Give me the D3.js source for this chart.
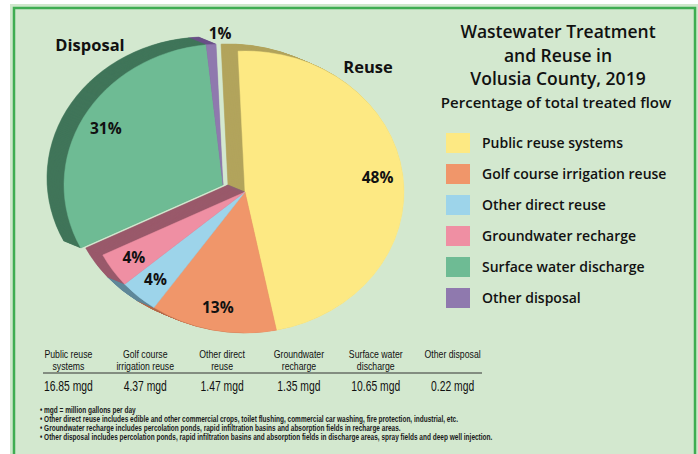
<!DOCTYPE html>
<html>
<head>
<meta charset="utf-8">
<script src="https://cdn.jsdelivr.net/npm/d3@7"></script>
<style>
  body { margin: 0; background: #fff; }
  svg { display: block; }
</style>
</head>
<body>
<div id="chart"></div>
<script>
var categories = ['Public reuse systems', 'Golf course irrigation reuse', 'Other direct reuse',
  'Groundwater recharge', 'Surface water discharge', 'Other disposal'];
var groups = ['Reuse', 'Reuse', 'Reuse', 'Reuse', 'Disposal', 'Disposal'];
var percents = [48, 13, 4, 4, 31, 1];
var flows = [16.85, 4.37, 1.47, 1.35, 10.65, 0.22];
var tableHeads = [['Public reuse', 'systems'], ['Golf course', 'irrigation reuse'], ['Other direct', 'reuse'],
  ['Groundwater', 'recharge'], ['Surface water', 'discharge'], ['Other disposal']];
var groupNames = ['Disposal', 'Reuse'];
var titleLines = ['Wastewater Treatment', 'and Reuse in', 'Volusia County, 2019'];
var subtitle = 'Percentage of total treated flow';
var footnotes = [
  '\u2022 mgd = million gallons per day',
  '\u2022 Other direct reuse includes edible and other commercial crops, toilet flushing, commercial car washing, fire protection, industrial, etc.',
  '\u2022 Groundwater recharge includes percolation ponds, rapid infiltration basins and absorption fields in recharge areas.',
  '\u2022 Other disposal includes percolation ponds, rapid infiltration basins and absorption fields in discharge areas, spray fields and deep well injection.'
];

var faceColors = ['#fde983', '#f0966a', '#9dd4ea', '#ef8fa3', '#6ebb94', '#8f79ae'];
var wallColors = ['#b2a45c', '#b46a4a', '#5f8799', '#9a5a6b', '#40755a', '#6a5088'];

var W = 698, H = 454;
var bg = '#d3e8cf';
var narrow = 0.74;

var svg = d3.select('#chart').append('svg')
  .attr('width', W).attr('height', H);

// frame
svg.append('rect').attr('x', 10).attr('y', 4).attr('width', W - 10).attr('height', H)
  .attr('fill', '#cfe8cc');
svg.append('rect').attr('x', 14).attr('y', 8).attr('width', 681).attr('height', H)
  .attr('fill', bg).attr('stroke', '#3fad52').attr('stroke-width', 2.5);

// pie
var cx = 245, cy = 192, rx = 159, ry = 141;
var explode = { Reuse: [0, 0], Disposal: [-22, -7] };
var depth = [-17, -7];
var startA = -2.5 * Math.PI / 180;

var pie = d3.pie().sort(null).value(function(d) { return d; })
  .startAngle(startA).endAngle(startA + 2 * Math.PI);
var slices = pie(percents);
slices.forEach(function(d, i) { d.i = i; d.group = groups[i]; });

var arc = d3.arc().innerRadius(0).outerRadius(rx);
var labelArc = d3.arc().innerRadius(rx * 0.84).outerRadius(rx * 0.84);
var outerLabelArc = d3.arc().innerRadius(rx * 1.08).outerRadius(rx * 1.08);

var pieG = svg.append('g');
var steps = 24;
// side walls: stack darker copies shifted back
for (var s = steps; s >= 1; s--) {
  var t = s / steps;
  slices.forEach(function(d) {
    var e = explode[d.group];
    pieG.append('path')
      .attr('d', arc(d))
      .attr('fill', wallColors[d.i])
      .attr('stroke', wallColors[d.i])
      .attr('stroke-width', 0.6)
      .attr('transform', 'translate(' + (cx + e[0] + depth[0] * t) + ',' + (cy + e[1] + depth[1] * t) +
        ') scale(1,' + ry / rx + ')');
  });
}
pieG.selectAll('path.face')
  .data(slices)
  .enter()
  .append('path')
  .attr('class', 'face')
  .attr('d', arc)
  .attr('fill', function(d) { return faceColors[d.i]; })
  .attr('stroke', function(d) { return faceColors[d.i]; })
  .attr('stroke-width', 0.5)
  .attr('transform', function(d) {
    var e = explode[d.group];
    return 'translate(' + (cx + e[0]) + ',' + (cy + e[1]) + ') scale(1,' + ry / rx + ')';
  });

pieG.selectAll('text.pct')
  .data(slices)
  .enter()
  .append('text')
  .attr('class', 'pct')
  .attr('text-anchor', 'middle')
  .attr('dy', '0.35em')
  .style('font-family', '"Open Sans", sans-serif')
  .style('font-weight', '700')
  .style('font-size', '15.5px')
  .attr('fill', '#111')
  .attr('x', function(d) {
    var e = explode[d.group];
    var c = d.value < 2 ? outerLabelArc.centroid(d) : labelArc.centroid(d);
    return cx + e[0] + c[0] + (d.value < 2 ? 10 : 0);
  })
  .attr('y', function(d) {
    var e = explode[d.group];
    var c = d.value < 2 ? outerLabelArc.centroid(d) : labelArc.centroid(d);
    return cy + e[1] + c[1] * ry / rx;
  })
  .text(function(d) { return d.value + '%'; });

// group names
svg.selectAll('text.grp')
  .data(groupNames)
  .enter()
  .append('text')
  .attr('class', 'grp')
  .attr('x', function(d, i) { return i === 0 ? 90 : 368; })
  .attr('y', function(d, i) { return i === 0 ? 51 : 73; })
  .attr('text-anchor', 'middle')
  .style('font-family', '"Open Sans", sans-serif')
  .style('font-weight', '700')
  .style('font-size', '16.5px')
  .attr('fill', '#111')
  .text(function(d) { return d; });

// title
svg.selectAll('text.title')
  .data(titleLines)
  .enter()
  .append('text')
  .attr('class', 'title')
  .attr('x', 558)
  .attr('y', function(d, i) { return 38 + i * 23.5; })
  .attr('text-anchor', 'middle')
  .style('font-family', '"Open Sans", sans-serif')
  .style('font-weight', '600')
  .style('font-size', '17.5px')
  .attr('fill', '#111')
  .text(function(d) { return d; });

svg.append('text')
  .attr('x', 556).attr('y', 108)
  .attr('text-anchor', 'middle')
  .style('font-family', '"Open Sans", sans-serif')
  .style('font-weight', '600')
  .style('font-size', '15px')
  .attr('fill', '#111')
  .text(subtitle);

// legend
var legend = svg.selectAll('g.leg')
  .data(categories)
  .enter()
  .append('g')
  .attr('class', 'leg')
  .attr('transform', function(d, i) { return 'translate(446,' + (133 + i * 31) + ')'; });

legend.append('rect')
  .attr('width', 24).attr('height', 20)
  .attr('fill', function(d, i) { return faceColors[i]; });

legend.append('text')
  .attr('x', 36).attr('y', 15)
  .style('font-family', '"Open Sans", sans-serif')
  .style('font-weight', '600')
  .style('font-size', '14px')
  .attr('fill', '#111')
  .text(function(d) { return d; });

// flow table
var col = d3.scaleBand().domain(categories).range([30, 491]);
function colX(c) { return col(c) + col.bandwidth() / 2; }

var heads = svg.selectAll('g.head')
  .data(tableHeads)
  .enter()
  .append('g')
  .attr('class', 'head')
  .attr('transform', function(d, i) {
    return 'translate(' + colX(categories[i]) + ',358) scale(' + narrow + ',1)';
  });
heads.selectAll('text')
  .data(function(d) { return d; })
  .enter()
  .append('text')
  .attr('text-anchor', 'middle')
  .attr('y', function(d, j) { return j * 12.5; })
  .style('font-family', '"Liberation Sans", sans-serif')
  .style('font-size', '11.8px')
  .attr('fill', '#111')
  .text(function(d) { return d; });

svg.append('line')
  .attr('x1', 43).attr('x2', 482).attr('y1', 373).attr('y2', 373)
  .attr('stroke', '#333').attr('stroke-width', 1);

svg.selectAll('g.flow')
  .data(flows)
  .enter()
  .append('g')
  .attr('class', 'flow')
  .attr('transform', function(d, i) {
    return 'translate(' + colX(categories[i]) + ',391) scale(' + narrow + ',1)';
  })
  .append('text')
  .attr('text-anchor', 'middle')
  .style('font-family', '"Liberation Sans", sans-serif')
  .style('font-size', '14px')
  .attr('fill', '#111')
  .text(function(d) { return d3.format('.2f')(d) + ' mgd'; });

// footnotes, squeezed to the width of the table area
var notesG = svg.append('g');
notesG.selectAll('text.note')
  .data(footnotes)
  .enter()
  .append('text')
  .attr('class', 'note')
  .attr('x', 0)
  .attr('y', function(d, i) { return i * 9; })
  .style('font-family', '"Liberation Sans", sans-serif')
  .style('font-weight', '700')
  .style('font-size', '8.4px')
  .attr('fill', '#1a1a1a')
  .text(function(d) { return d; });
var maxW = d3.max(notesG.selectAll('text.note').nodes(), function(n) { return n.getComputedTextLength(); });
notesG.attr('transform', 'translate(40,413) scale(' + (452 / maxW) + ',1)');
</script>
</body>
</html>
